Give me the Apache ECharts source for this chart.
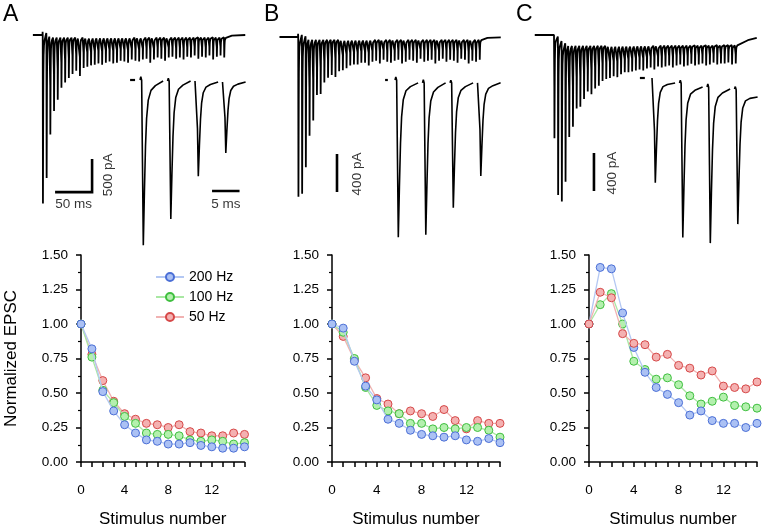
<!DOCTYPE html>
<html><head><meta charset="utf-8">
<script src="https://cdn.jsdelivr.net/npm/echarts@6/dist/echarts.min.js"></script>
<style>html,body{margin:0;padding:0;background:#fff}#c{width:762px;height:529px}</style>
</head><body><div id="c"></div>
<script>
// ===== DATA =====
const stimulusNumber = [0,1,2,3,4,5,6,7,8,9,10,11,12,13,14,15];
const xTickLabels = [0,4,8,12];
const yTickLabels = [0,0.25,0.5,0.75,1,1.25,1.5];
const freqNames = ['200 Hz','100 Hz','50 Hz'];

const A_200 = [1.00,0.82,0.51,0.37,0.27,0.21,0.16,0.15,0.13,0.13,0.14,0.12,0.11,0.10,0.10,0.11];
const A_100 = [1.00,0.76,0.52,0.43,0.33,0.28,0.21,0.20,0.20,0.19,0.16,0.15,0.16,0.15,0.13,0.14];
const A_50  = [1.00,0.78,0.59,0.44,0.35,0.31,0.28,0.27,0.25,0.27,0.22,0.21,0.19,0.19,0.21,0.20];

const B_200 = [1.00,0.97,0.73,0.55,0.45,0.31,0.28,0.23,0.20,0.19,0.18,0.19,0.16,0.15,0.17,0.14];
const B_100 = [1.00,0.94,0.75,0.54,0.41,0.37,0.35,0.28,0.28,0.24,0.25,0.24,0.25,0.25,0.23,0.18];
const B_50  = [1.00,0.91,0.74,0.61,0.46,0.42,0.35,0.37,0.35,0.33,0.38,0.30,0.24,0.30,0.28,0.28];

const C_200 = [1.00,1.41,1.40,1.08,0.83,0.65,0.54,0.49,0.43,0.34,0.37,0.30,0.28,0.28,0.25,0.28];
const C_100 = [1.00,1.14,1.22,1.00,0.73,0.67,0.60,0.61,0.56,0.48,0.42,0.44,0.47,0.41,0.40,0.39];
const C_50  = [1.00,1.23,1.19,0.93,0.86,0.85,0.76,0.78,0.70,0.68,0.63,0.66,0.55,0.54,0.53,0.58];

// example traces: peak EPSC amplitude of each pulse of the 200 Hz train (pA)
const A_trainPeaks = [2550,2150,1480,1110,940,760,680,610,550,500,580,460,440,420,410,390,410,380,360,390,
  380,350,360,380,330,350,360,330,320,380,330,300,320,350,300,290,320,300,330,290,300,270,320,290,300,270,330,290,270,300];
const B_trainPeaks = [1680,1640,1350,1010,850,580,570,450,400,370,390,330,320,300,270,260,260,240,240,270,
  230,220,250,210,230,240,220,210,250,230,210,220,240,200,230,220,210,250,220,200,230,210,220,240,200,210,250,220,230,210];
const C_trainPeaks = [1080,1630,1650,1430,960,850,660,640,560,480,510,450,420,370,350,340,320,330,300,280,
  280,270,260,250,260,240,230,250,220,230,220,210,230,210,200,220,210,190,210,200,190,210,200,180,200,190,190,180,200,190];
// slow baseline (pA) during the train: [time ms, current]
const A_trainBase = [[-13,0],[0,0],[15,-40],[246,-40],[256,-10],[274,0]];
const B_trainBase = [[-25,0],[0,0],[15,-30],[246,-30],[256,-10],[274,-5]];
const C_trainBase = [[-26,0],[0,0],[12,-115],[246,-110],[262,-55],[274,-30]];
// insets: first four EPSCs of the train (pA) and local baseline at each segment start
const A_insetPeaks = [2500,2090,1440,1075];
const B_insetPeaks = [1650,1600,1315,980];
const C_insetPeaks = [1095,1620,1640,1410];
const A_insetBase = [0,-15,-15,-30,-30];
const B_insetBase = [0,-30,-30,-30,-30];
const C_insetBase = [0,-53,-95,-116,-200];
// normalized EPSC waveform (time after stimulus ms, fraction of peak)
const epscShape = [[0,0],[0.15,0.02],[0.3,0],[0.45,-0.5],[0.6,-1],[0.8,-0.68],[1.0,-0.4],[1.2,-0.23],[1.5,-0.12],[2.0,-0.06],[2.8,-0.03],[4.2,0]];
const pulseInterval = 5; // ms (200 Hz)

// ===== BUILD =====
const FONT = 'Liberation Sans, Arial, sans-serif';
const grids=[], xAxes=[], yAxes=[], series=[];
function addMapGrid(rect, x0px, xs, y0px, ys){
  const gi = grids.length;
  grids.push({left:rect[0], top:rect[1], width:rect[2], height:rect[3]});
  xAxes.push({gridIndex:gi, type:'value', show:false, min:(rect[0]-x0px)/xs, max:(rect[0]+rect[2]-x0px)/xs});
  yAxes.push({gridIndex:gi, type:'value', show:false, min:(y0px-(rect[1]+rect[3]))/ys, max:(y0px-rect[1])/ys});
  return gi;
}
function interp(pts, t){
  if(t<=pts[0][0]) return pts[0][1];
  for(let i=1;i<pts.length;i++){ if(t<=pts[i][0]){const a=pts[i-1],b=pts[i];return a[1]+(b[1]-a[1])*(t-a[0])/(b[0]-a[0]);} }
  return pts[pts.length-1][1];
}
function traceLine(gi, data, w){
  series.push({type:'line', xAxisIndex:gi, yAxisIndex:gi, data, showSymbol:false, symbol:'none', silent:true,
    lineStyle:{color:'#000', width:w||1.4}, animation:false, z:5});
}
function mainTrace(gi, peaks, base){
  const d=[[base[0][0], base[0][1]]];
  peaks.forEach((a,i)=>{ const t0=i*pulseInterval; epscShape.forEach(([dt,f])=>d.push([t0+dt, interp(base,t0+dt)+f*a])); });
  const tl=(peaks.length-1)*pulseInterval+4.2;
  base.forEach(p=>{ if(p[0]>tl) d.push([p[0],p[1]]); });
  traceLine(gi,d,1.8);
}
function insetTrace(gi, peaks, base, dash){
  traceLine(gi, [[dash[0],base[0]],[dash[1],base[0]]], 2.2);
  peaks.forEach((a,i)=>{
    const t0=i*pulseInterval, d=[];
    epscShape.forEach(([dt,f])=>d.push([t0+dt, base[i]+(base[i+1]-base[i])*dt/4.2 + f*a]));
    traceLine(gi,d,1.6);
  });
}
function scaleBar(gi, pts, labels){
  series.push({type:'line', xAxisIndex:gi, yAxisIndex:gi, data:pts, showSymbol:false, symbol:'none', silent:true,
    lineStyle:{color:'#000', width:2.6, cap:'butt', join:'miter'}, animation:false, z:6});
  labels.forEach(l=>series.push({type:'scatter', xAxisIndex:gi, yAxisIndex:gi, symbolSize:0, silent:true, animation:false,
    data:[{value:l.at, label:{show:true, formatter:l.text, position:'inside', rotate:l.rot||0,
      color:'#000', fontSize:13.5, fontFamily:FONT}}]}));
}

// Panel A
let g = addMapGrid([25,15,232,225], 42.5, 0.74, 35, 0.066);
mainTrace(g, A_trainPeaks, A_trainBase);
scaleBar(g, [[17,-2380],[67,-2380],[67,-1880]], [
  {at:[42,-2570], text:'50 ms'},
  {at:[88.5,-2120], text:'500 pA', rot:90}]);
g = addMapGrid([120,60,140,195], 140, 5.5, 80, 0.066);
insetTrace(g, A_insetPeaks, A_insetBase, [-1.8,-0.9]);
scaleBar(g, [[13.1,-1682],[18.1,-1682]], [{at:[15.6,-1890], text:'5 ms'}]);
// Panel B
g = addMapGrid([275,15,232,225], 298, 0.74, 37, 0.095);
mainTrace(g, B_trainPeaks, B_trainBase);
scaleBar(g, [[52.7,-1632],[52.7,-1232]], [{at:[79.7,-1442], text:'400 pA', rot:90}]);
g = addMapGrid([375,60,135,195], 395, 5.5, 80, 0.095);
insetTrace(g, B_insetPeaks, B_insetBase, [-1.8,-1.3]);
// Panel C
g = addMapGrid([530,15,230,225], 554, 0.74, 35, 0.095);
mainTrace(g, C_trainPeaks, C_trainBase);
scaleBar(g, [[54,-1642],[54,-1242]], [{at:[78.4,-1453], text:'400 pA', rot:90}]);
g = addMapGrid([630,60,130,195], 652, 5.5, 78, 0.095);
insetTrace(g, C_insetPeaks, C_insetBase, [-2.2,-1.3]);

// Summary plots
const colors = [
  {line:'#b4c8f3', fill:'#abc1f4', stroke:'#4b6fd6'},
  {line:'#a9e8a3', fill:'#b4f0ae', stroke:'#3fbf3f'},
  {line:'#f1b2b2', fill:'#f4b1b1', stroke:'#d64848'}];
const panels = [
  {left:81, width:163.5, sets:[A_200,A_100,A_50], top:[2,1,0], yName:'Normalized EPSC'},
  {left:332, width:168, sets:[B_200,B_100,B_50], top:[2,1,0]},
  {left:589, width:168, sets:[C_200,C_100,C_50], top:[1,0,2]}];
panels.forEach((p)=>{
  const gi = grids.length;
  grids.push({left:p.left, top:255, width:p.width, height:211});
  const axLine = {show:true, lineStyle:{color:'#000', width:1.5}};
  xAxes.push({gridIndex:gi, type:'value', min:0, max:15, interval:1, offset:13, position:'bottom',
    axisLine:axLine, axisTick:{show:true, length:5, lineStyle:{color:'#000', width:1.5}},
    splitLine:{show:false},
    axisLabel:{color:'#000', fontSize:13.5, fontFamily:FONT, margin:8,
      formatter:v=>xTickLabels.indexOf(v)>=0?String(v):''},
    name:'Stimulus number', nameLocation:'middle', nameGap:36,
    nameTextStyle:{color:'#000', fontSize:17, fontFamily:FONT}});
  yAxes.push({gridIndex:gi, type:'value', min:0, max:1.5, interval:0.25, offset:9, position:'left',
    axisLine:axLine, axisTick:{show:true, length:5, lineStyle:{color:'#000', width:1.5}},
    minorTick:{show:true, splitNumber:2, length:3, lineStyle:{color:'#000', width:1.2}},
    splitLine:{show:false},
    axisLabel:{color:'#000', fontSize:13.5, fontFamily:FONT, margin:4,
      formatter:v=>yTickLabels.indexOf(v)>=0?v.toFixed(2):''},
    name:p.yName||'', nameLocation:'middle', nameGap:52, nameRotate:90,
    nameTextStyle:{color:'#000', fontSize:17, fontFamily:FONT}});
  p.sets.forEach((vals,k)=>{
    series.push({type:'line', name:freqNames[k], xAxisIndex:gi, yAxisIndex:gi,
      data:stimulusNumber.map((s,i)=>[s,vals[i]]), symbol:'circle', symbolSize:8, showSymbol:true,
      clip:false, animation:false, z:10+p.top[k],
      lineStyle:{color:colors[k].line, width:1.3},
      itemStyle:{color:colors[k].fill, borderColor:colors[k].stroke, borderWidth:1}});
  });
});

const chart = echarts.init(document.getElementById('c'), null, {renderer:'canvas'});
chart.setOption({
  backgroundColor:'#fff', animation:false,
  textStyle:{fontFamily:FONT},
  grid:grids, xAxis:xAxes, yAxis:yAxes, series,
  legend:{data:freqNames, orient:'vertical', left:150, top:265, itemWidth:28, itemHeight:10, itemGap:6,
    textStyle:{fontSize:14, color:'#000', fontFamily:FONT}, selectedMode:false},
  graphic:[
    {type:'text', left:3, top:3, style:{text:'A', fontSize:23, fontFamily:FONT, fill:'#000'}},
    {type:'text', left:264, top:3, style:{text:'B', fontSize:23, fontFamily:FONT, fill:'#000'}},
    {type:'text', left:516, top:3, style:{text:'C', fontSize:23, fontFamily:FONT, fill:'#000'}}]
});
</script></body></html>
